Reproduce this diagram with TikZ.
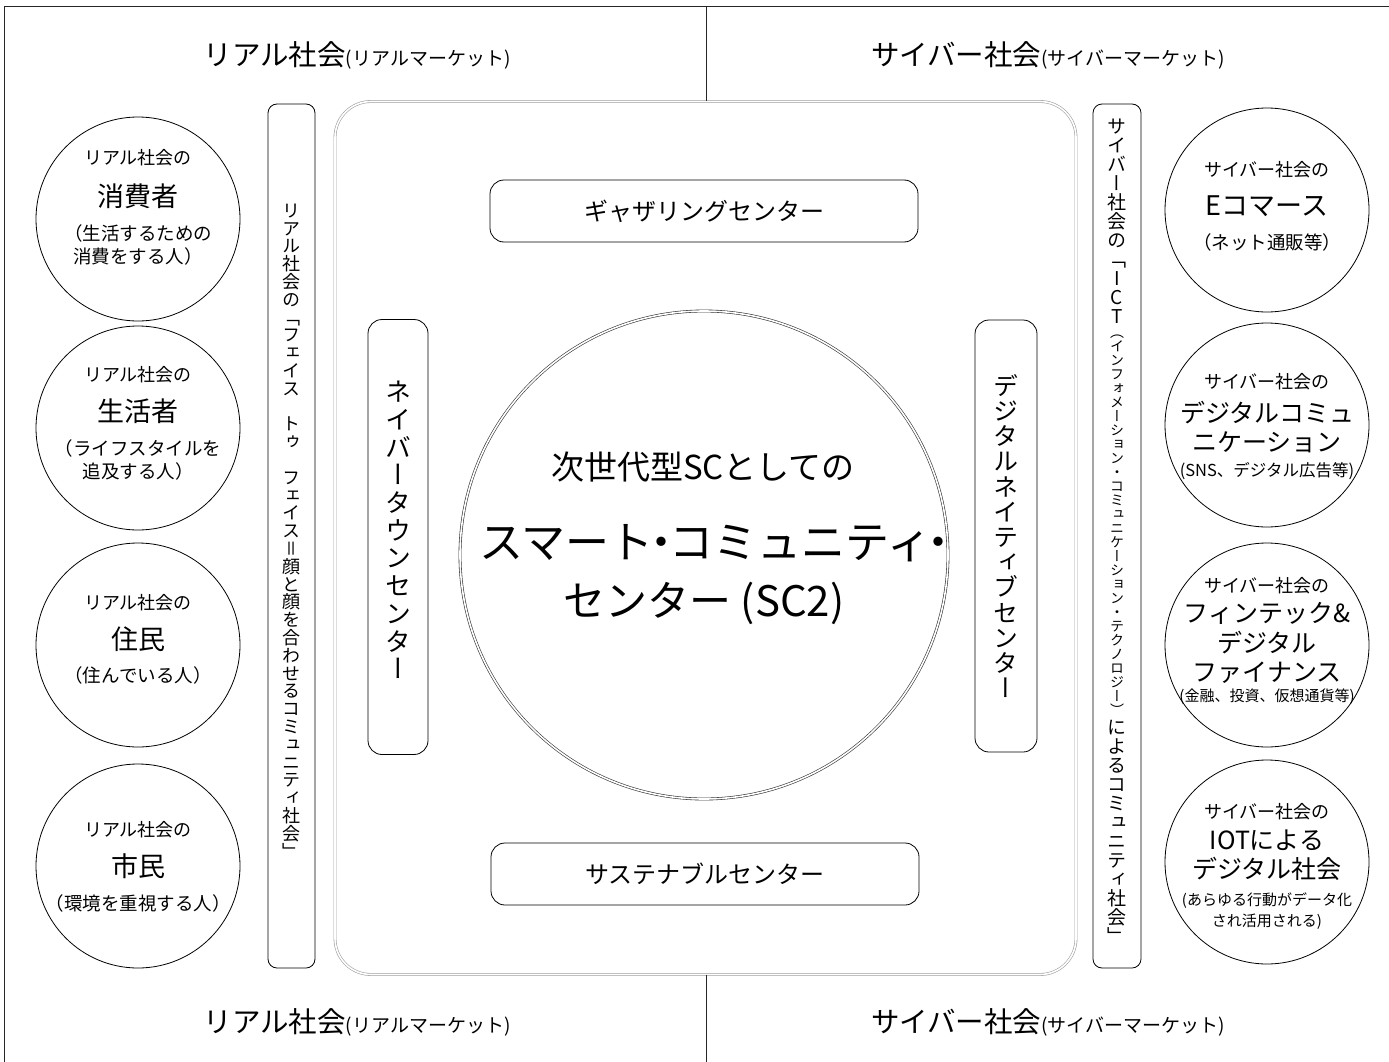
\documentclass[tikz,border=0pt]{standalone}
\usepackage{fontspec}
\setmainfont{Noto Sans CJK JP}
\newfontfamily\jpv[RawFeature=+vert]{Noto Sans CJK JP}
\def\vtloop#1{\ifx\relax#1\else\hbox to 0pt{\hss#1\hss}\expandafter\vtloop\fi}
\newcommand\vcol[3]{{\fontsize{#1}{#2}\selectfont\jpv\vtloop#3\relax}}
\newcommand\fs[1]{\fontsize{#1}{#1}\selectfont}
\newcommand\fsb[2]{\fontsize{#1}{#2}\selectfont}
\newcommand\ndot{\kern-0.32em・\kern-0.32em}
\tikzset{
  frame/.style={line width=0.7pt, draw=black!85},
  circ/.style={draw, circle, minimum size=204pt, inner sep=0pt, line width=0.8pt},
  pill/.style={draw, rounded corners=14pt, line width=0.8pt},
  bar/.style={draw, rounded corners=9pt, line width=0.8pt},
  txt/.style={inner sep=0pt, align=center},
  hdr/.style={txt, font=\fs{28.5pt}},
  tA/.style={txt, font=\fs{18pt}},
  tB/.style={txt, font=\fs{27pt}},
  tC/.style={txt, font=\fsb{18.5pt}{23pt}},
  tD/.style={txt, font=\fsb{25pt}{29.5pt}},
  tE/.style={txt, font=\fsb{15pt}{21.5pt}},
}
\begin{document}
\begin{tikzpicture}[x=1pt,y=-1pt]
\useasboundingbox (0,0) rectangle (1389,1062);
% outer frame and dividers
\coordinate (fTL) at (4,6);
\coordinate (fBL) at (4,1062);
\coordinate (fTR) at (1389,6);
\coordinate (dT) at (706,6);
\coordinate (dB) at (706,1062);
\draw[frame] (fBL) -- (fTL) -- (fTR);
% headers
\node[hdr] (hRT) at (357,55) {リアル社会{\fs{19pt}(リアルマーケット)}};
\node[hdr] (hCT) at (1048,55) {サイバー社会{\fs{19pt}(サイバーマーケット)}};
\node[hdr] (hRB) at (357,1022) {リアル社会{\fs{19pt}(リアルマーケット)}};
\node[hdr] (hCB) at (1048,1022) {サイバー社会{\fs{19pt}(サイバーマーケット)}};
% central frame
\node[draw=gray!75, double, double distance=1.6pt, line width=0.6pt, rounded corners=36pt,
      minimum width=741pt, minimum height=873pt, inner sep=0pt] (main) at (705.5,538) {};
\coordinate (mT) at (706,101.5);
\coordinate (mB) at (706,974.5);
\draw[frame] (dT) -- (mT);
\draw[frame] (mB) -- (dB);
% pills
\node[pill, minimum width=428pt, minimum height=62pt, inner sep=0pt] (gather) at (704,211) {};
\node[txt, font=\fs{24pt}] (gatherT) at (gather.center) {ギャザリングセンター};
\node[pill, minimum width=428pt, minimum height=62pt, inner sep=0pt] (sust) at (705,874) {};
\node[txt, font=\fs{24pt}] (sustT) at (sust.center) {サステナブルセンター};
\node[pill, minimum width=60pt, minimum height=435pt, inner sep=0pt] (neigh) at (398,537) {};
\node[txt] (neighT) at (398,530) {\vbox{\lineskiplimit=-1000pt\vcol{26pt}{27.7pt}{ネイバータウンセンター}}};
\node[pill, minimum width=62pt, minimum height=432pt, inner sep=0pt] (digi) at (1006,536) {};
\node[txt] (digiT) at (1006,536) {\vbox{\lineskiplimit=-1000pt\vcol{25pt}{25.2pt}{デジタルネイティブセンター}}};
% big circle
\node[draw=black!80, double, double distance=1.6pt, line width=0.6pt, circle, minimum size=488pt, inner sep=0pt] (big) at (704,555) {};
\node[txt, font=\fs{33pt}] (bigA) at (703,467) {次世代型SCとしての};
\node[txt, font=\fs{44pt}] (bigB) at (713,543) {スマート\ndot コミュニティ\ndot};
\node[txt, font=\fs{42pt}] (bigC) at (704,603) {センター (SC2)};
% side bars
\node[bar, minimum width=47pt, minimum height=864pt, inner sep=0pt] (lbar) at (291.5,536) {};
\node[txt] (lbarT) at (291.5,531) {\vbox{\lineskiplimit=-1000pt\vcol{18pt}{17.8pt}{リアル社会の「フェイス　トゥ　フェイス＝顔と顔を合わせるコミュニティ社会」}}};
\node[bar, minimum width=48pt, minimum height=864pt, inner sep=0pt] (rbar) at (1117,536) {};
\node[txt] (rbarT) at (1117,531) {\vbox{\lineskiplimit=-1000pt\vcol{19pt}{19pt}{サイバー社会の「ICT}\vcol{14pt}{14pt}{（インフォメーション・コミュニケーション・テクノロジー）}\vcol{19pt}{19pt}{によるコミュニティ社会」}}};
% left circles
\node[circ] (L1) at (138,219) {};
\node[tA] (L1a) at (138,158) {リアル社会の};
\node[tB] (L1b) at (138,196) {消費者};
\node[tC] (L1c) at (138,245) {（生活するための\\消費をする人）};
\node[circ] (L2) at (138,428) {};
\node[tA] (L2a) at (138,375) {リアル社会の};
\node[tB] (L2b) at (138,411) {生活者};
\node[tC] (L2c) at (138,460) {（ライフスタイルを\\追及する人）};
\node[circ] (L3) at (138,645) {};
\node[tA] (L3a) at (138,603) {リアル社会の};
\node[tB] (L3b) at (138,639) {住民};
\node[tC] (L3c) at (138,675) {（住んでいる人）};
\node[circ] (L4) at (138,866) {};
\node[tA] (L4a) at (138,830) {リアル社会の};
\node[tB] (L4b) at (138,866) {市民};
\node[tC] (L4c) at (138,903) {（環境を重視する人）};
% right circles
\node[circ] (R1) at (1267,210) {};
\node[tA] (R1a) at (1267,170) {サイバー社会の};
\node[tB] (R1b) at (1267,206) {Eコマース};
\node[tC] (R1c) at (1267,242) {（ネット通販等）};
\node[circ] (R2) at (1267,425) {};
\node[tA] (R2a) at (1267,382) {サイバー社会の};
\node[tD] (R2b) at (1267,427) {デジタルコミュ\\ニケーション};
\node[tE, font=\fs{16.5pt}] (R2c) at (1267,471) {(SNS、デジタル広告等)};
\node[circ] (R3) at (1267,645) {};
\node[tA] (R3a) at (1267,586) {サイバー社会の};
\node[tD] (R3b) at (1267,643) {フィンテック\&\\デジタル\\ファイナンス};
\node[tE] (R3c) at (1267,697) {(金融、投資、仮想通貨等)};
\node[circ] (R4) at (1267,862) {};
\node[tA] (R4a) at (1267,812) {サイバー社会の};
\node[tD] (R4b) at (1267,855) {IOTによる\\デジタル社会};
\node[tE] (R4c) at (1267,911) {(あらゆる行動がデータ化\\され活用される)};
\end{tikzpicture}
\end{document}
